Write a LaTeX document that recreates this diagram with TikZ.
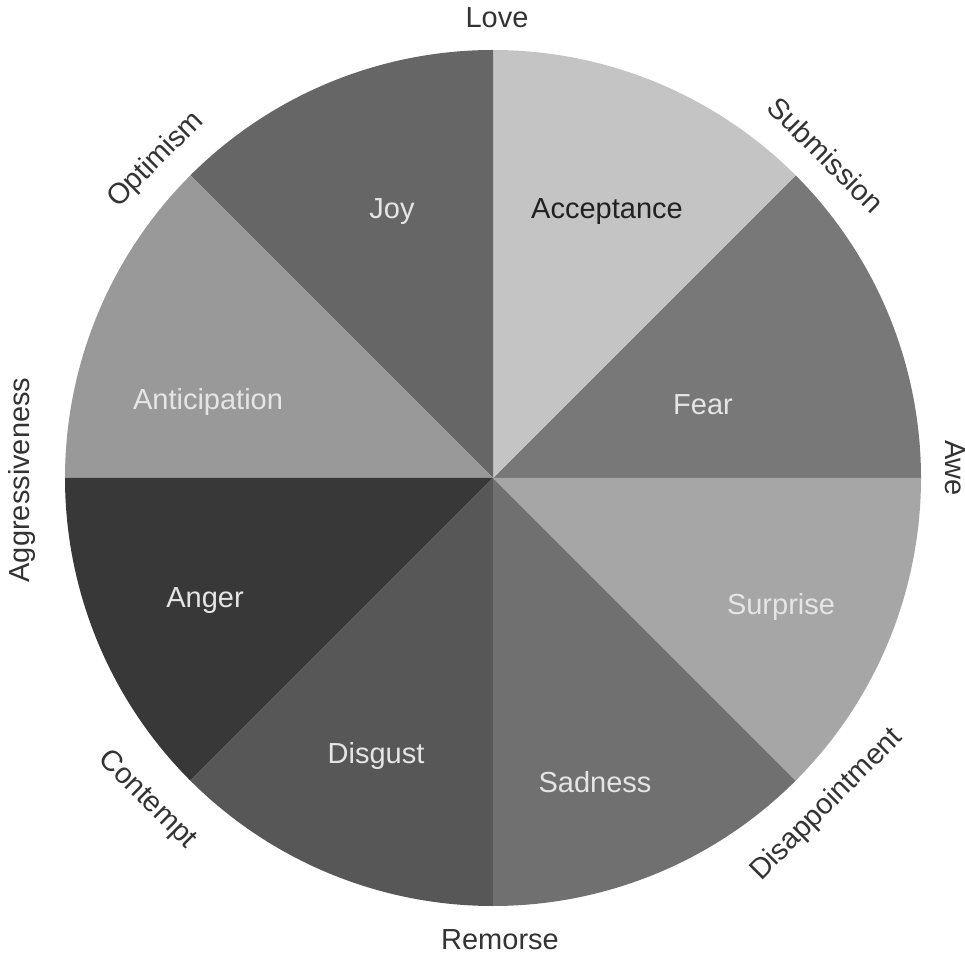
\documentclass[tikz,border=0pt]{standalone}
\usepackage{fontspec}
\setmainfont{Liberation Sans}
\definecolor{cJoy}{gray}{0.40}
\definecolor{cAcceptance}{gray}{0.77}
\definecolor{cFear}{gray}{0.47}
\definecolor{cSurprise}{gray}{0.65}
\definecolor{cSadness}{gray}{0.44}
\definecolor{cDisgust}{gray}{0.34}
\definecolor{cAnger}{gray}{0.22}
\definecolor{cAnticipation}{gray}{0.60}
\definecolor{outertext}{gray}{0.2}
\definecolor{innerlight}{gray}{0.90}
\definecolor{innerdark}{gray}{0.13}
\tikzset{
  lbl/.style={font=\fontsize{29}{34}\selectfont, inner sep=0pt},
  outer/.style={lbl, text=outertext},
  inner/.style={lbl, text=innerlight},
  innerdk/.style={lbl, text=innerdark},
}
\newcommand{\piesector}[3]{%
  \fill[#1] (ctr) -- ++(#2:428) arc[start angle=#2, end angle=#3, radius=428] -- cycle;}
\begin{document}
\begin{tikzpicture}[x=1pt,y=1pt]
\useasboundingbox (0,0) rectangle (965,958);
\coordinate (ctr) at (493,480);
% the eight sectors, counter-clockwise from the right
\piesector{cFear}{0}{45}
\piesector{cAcceptance}{45}{90}
\piesector{cJoy}{90}{135}
\piesector{cAnticipation}{135}{180}
\piesector{cAnger}{180}{225}
\piesector{cDisgust}{225}{270}
\piesector{cSadness}{270}{315}
\piesector{cSurprise}{315}{360}
% sector names
\node[inner]   (joy)   at (392,746) {Joy};
\node[innerdk] (acc)   at (607,746) {Acceptance};
\node[inner]   (fear)  at (703,553) {Fear};
\node[inner]   (sur)   at (781,351) {Surprise};
\node[inner]   (sad)   at (595,176) {Sadness};
\node[inner]   (dis)   at (376,202) {Disgust};
\node[inner]   (ang)   at (205,357) {Anger};
\node[inner]   (ant)   at (208,556) {Anticipation};
% dyads around the rim
\node[outer] (love)  at (497,940) {Love};
\node[outer, rotate=-45] (subm) at (826,803) {Submission};
\node[outer, rotate=-90] (awe)  at (955,490) {Awe};
\node[outer, rotate=45]  (disa) at (827,153) {Disappointment};
\node[outer] (rem)   at (500,18) {Remorse};
\node[outer, rotate=-45] (cont) at (147,158) {Contempt};
\node[outer, rotate=90]  (aggr) at (22,478) {Aggressiveness};
\node[outer, rotate=45]  (opt)  at (156,798) {Optimism};
\end{tikzpicture}
\end{document}
